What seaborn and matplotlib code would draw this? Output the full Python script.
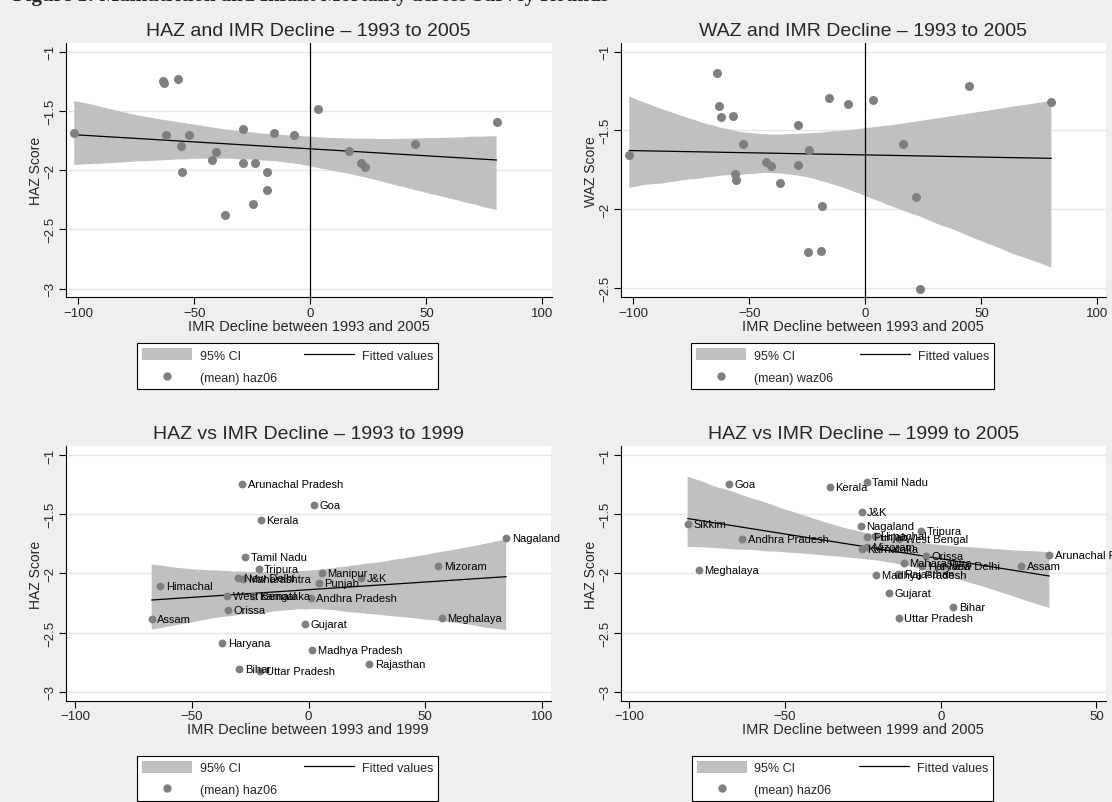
import numpy as np
import pandas as pd
import matplotlib
matplotlib.use("Agg")
import matplotlib.pyplot as plt
import seaborn as sns
from matplotlib.patches import Patch
from matplotlib.lines import Line2D

# top left: HAZ (2006) vs IMR decline 1993-2005
imr_9305_a = [-101.7, -63.6, -62.9, -56.9, -62.1, -52.4, -55.7, -55.3, -40.8, -42.4, -29.0, -29.0, -24.0,
              -15.5, -7.2, -18.8, -18.5, -24.6, -36.8, 3.2, 16.5, 22.0, 23.6, 45.1, 80.3]
haz_9305 = [-1.69, -1.245, -1.267, -1.233, -1.706, -1.703, -1.797, -2.016, -1.85, -1.912, -1.653, -1.94, -1.94,
            -1.684, -1.70, -2.013, -2.168, -2.286, -2.377, -1.484, -1.841, -1.94, -1.974, -1.78, -1.597]

# top right: WAZ (2006) vs IMR decline 1993-2005
imr_9305_b = [-101.7, -63.8, -63.1, -62.1, -57.0, -52.6, -56.0, -55.6, -42.8, -40.8, -36.9, -29.0, -29.0,
              -24.1, -18.7, -24.7, -19.0, -15.6, -7.3, 3.2, 16.4, 21.7, 23.4, 44.8, 80.2]
waz_9305 = [-1.657, -1.135, -1.347, -1.415, -1.411, -1.589, -1.78, -1.816, -1.703, -1.725, -1.837, -1.464, -1.718,
            -1.627, -1.979, -2.275, -2.267, -1.294, -1.334, -1.309, -1.587, -1.922, -2.507, -1.218, -1.322]

# bottom left: HAZ vs IMR decline 1993-1999
states_9399 = ["Arunachal Pradesh", "Goa", "Kerala", "Tamil Nadu", "Tripura", "New Delhi", "Maharashtra",
               "Himachal", "West Bengal", "Karnataka", "Orissa", "Assam", "Gujarat", "Haryana", "Bihar",
               "Uttar Pradesh", "Madhya Pradesh", "Andhra Pradesh", "Punjab", "Manipur", "J&K", "Mizoram",
               "Nagaland", "Meghalaya", "Rajasthan"]
imr_9399 = [-28.4, 2.4, -20.5, -27.1, -21.4, -30.1, -28.2, -63.7, -35.0, -23.8, -34.7, -67.3, -1.6, -37.0, -29.8,
            -20.8, 1.5, 0.9, 4.4, 5.8, 22.7, 55.7, 84.8, 57.2, 26.0]
haz_9399 = [-1.248, -1.425, -1.547, -1.862, -1.96, -2.042, -2.045, -2.104, -2.189, -2.19, -2.312, -2.386, -2.425,
            -2.588, -2.808, -2.828, -2.648, -2.211, -2.084, -1.994, -2.036, -1.938, -1.701, -2.38, -2.769]

# bottom right: HAZ vs IMR decline 1999-2005
states_9905 = ["Goa", "Kerala", "Sikkim", "Andhra Pradesh", "Meghalaya", "Tamil Nadu", "J&K", "Nagaland",
               "Tripura", "Punjab", "Himachal", "West Bengal", "Karnataka", "Mizoram", "Orissa", "Maharashtra",
               "Haryana", "New Delhi", "Madhya Pradesh", "Rajasthan", "Gujarat", "Bihar", "Uttar Pradesh",
               "Arunachal Pradesh", "Assam"]
imr_9905 = [-68.1, -35.7, -81.3, -63.7, -77.7, -23.8, -25.4, -25.6, -6.3, -23.6, -21.1, -13.4, -25.4, -23.8,
            -4.6, -11.9, -5.9, 0.8, -20.8, -13.6, -16.7, 4.0, -13.5, 34.9, 25.8]
haz_9905 = [-1.245, -1.27, -1.586, -1.707, -1.974, -1.228, -1.484, -1.602, -1.645, -1.690, -1.687, -1.707, -1.792,
            -1.780, -1.851, -1.913, -1.938, -1.938, -2.014, -2.005, -2.166, -2.287, -2.377, -1.844, -1.94]

bg = "#efefef"
dot = "#7f7f7f"
band = "#c0c0c0"

sns.set_style("white")
plt.rcParams["font.family"] = ["Liberation Sans", "DejaVu Sans"]

fig = plt.figure(figsize=(11.12, 8.03), dpi=100)
fig.patch.set_facecolor(bg)

W, H = 1112, 803


def rect(l, t, r, b):
    return [l / W, 1 - b / H, (r - l) / W, (b - t) / H]


panels = [
    dict(rect=rect(65.7, 44, 551.7, 298.3), x=imr_9305_a, y=haz_9305, names=None,
         title="HAZ and IMR Decline \u2013 1993 to 2005", xlabel="IMR Decline between 1993 and 2005",
         ylabel="HAZ Score", yticks=[-1, -1.5, -2, -2.5, -3], ylim=(-3.074, -0.9265),
         xticks=[-100, -50, 0, 50, 100], xlim=(-105.4, 104.05), vline=True, leg="(mean) haz06",
         legc=(287.5, 367)),
    dict(rect=rect(620.7, 44, 1106, 298.3), x=imr_9305_b, y=waz_9305, names=None,
         title="WAZ and IMR Decline \u2013 1993 to 2005", xlabel="IMR Decline between 1993 and 2005",
         ylabel="WAZ Score", yticks=[-1, -1.5, -2, -2.5], ylim=(-2.561, -0.945),
         xticks=[-100, -50, 0, 50, 100], xlim=(-105.4, 103.75), vline=True, leg="(mean) waz06",
         legc=(842.5, 367)),
    dict(rect=rect(65.7, 447.3, 550.7, 701.7), x=imr_9399, y=haz_9399, names=states_9399,
         title="HAZ vs IMR Decline \u2013 1993 to 1999", xlabel="IMR Decline between 1993 and 1999",
         ylabel="HAZ Score", yticks=[-1, -1.5, -2, -2.5, -3], ylim=(-3.076, -0.9265),
         xticks=[-100, -50, 0, 50, 100], xlim=(-104.2, 103.9), vline=False, leg="(mean) haz06",
         legc=(287.5, 779.5)),
    dict(rect=rect(620.7, 447.3, 1106, 701.7), x=imr_9905, y=haz_9905, names=states_9905,
         title="HAZ vs IMR Decline \u2013 1999 to 2005", xlabel="IMR Decline between 1999 and 2005",
         ylabel="HAZ Score", yticks=[-1, -1.5, -2, -2.5, -3], ylim=(-3.076, -0.9265),
         xticks=[-100, -50, 0, 50], xlim=(-102.8, 53.1), vline=False, leg="(mean) haz06",
         legc=(842.5, 779.5)),
]

for p in panels:
    ax = fig.add_axes(p["rect"])
    ax.set_facecolor("white")
    df = pd.DataFrame({"x": p["x"], "y": p["y"]})

    sns.regplot(data=df, x="x", y="y", ax=ax, scatter=False, ci=95, n_boot=2000, seed=1,
                line_kws=dict(color="black", lw=0.9, zorder=2))
    for c in ax.collections:
        c.set_facecolor(band)
        c.set_alpha(1)
        c.set_edgecolor("none")
        c.set_zorder(1)

    if p["vline"]:
        ax.axvline(0, color="black", lw=0.9, zorder=2)

    sns.scatterplot(data=df, x="x", y="y", ax=ax, color=dot, s=42 if p["names"] is None else 32,
                    linewidth=0, zorder=3)

    if p["names"] is not None:
        for name, xv, yv in zip(p["names"], p["x"], p["y"]):
            ax.annotate(name, (xv, yv), xytext=(4, 0), textcoords="offset points",
                        va="center", ha="left", fontsize=8, color="black", zorder=4)

    ax.set_xlim(*p["xlim"])
    ax.set_ylim(*p["ylim"])
    ax.set_xticks(p["xticks"])
    ax.set_xticklabels([str(t).replace("-", "\u2212") for t in p["xticks"]], fontsize=9.5)
    ax.set_yticks(p["yticks"])
    ax.set_yticklabels([("%g" % t).replace("-", "\u2212") for t in p["yticks"]], fontsize=9.5,
                       rotation=90, va="center")
    ax.tick_params(axis="both", direction="out", length=5, width=0.8, color="black", pad=2,
                   left=True, bottom=True)
    ax.yaxis.grid(True, color="#e6e6e6", lw=1)
    ax.xaxis.grid(False)
    ax.set_axisbelow(True)
    for s in ["top", "right"]:
        ax.spines[s].set_visible(False)
    for s in ["left", "bottom"]:
        ax.spines[s].set_color("black")
        ax.spines[s].set_linewidth(0.8)

    ax.set_title(p["title"], fontsize=14, pad=6)
    ax.set_xlabel(p["xlabel"], fontsize=10.5, labelpad=0)
    ax.set_ylabel(p["ylabel"], fontsize=10, labelpad=1)

    handles = [Patch(facecolor=band, edgecolor="none"),
               Line2D([], [], marker="o", ls="none", color=dot, markersize=5),
               Line2D([], [], color="black", lw=0.9)]
    labels = ["95% CI", p["leg"], "Fitted values"]
    fig.legend(handles, labels, ncol=2, loc="center",
               bbox_to_anchor=(p["legc"][0] / W, 1 - p["legc"][1] / H),
               fontsize=9, frameon=True, fancybox=False, framealpha=1, edgecolor="black",
               handlelength=4, handleheight=1.1, handletextpad=0.6, columnspacing=2.2,
               labelspacing=0.7, borderpad=0.4).get_frame().set_linewidth(0.8)

# header line, cut off at the top edge of the page as in the source
fig.text(0.012, 1 - 1.5 / H, "Figure 1: Malnutrition and Infant Mortality across Survey Rounds",
         fontsize=15, fontweight="bold", family="Liberation Serif", va="baseline", ha="left")

fig.savefig("out.png", dpi=100, facecolor=fig.get_facecolor())
